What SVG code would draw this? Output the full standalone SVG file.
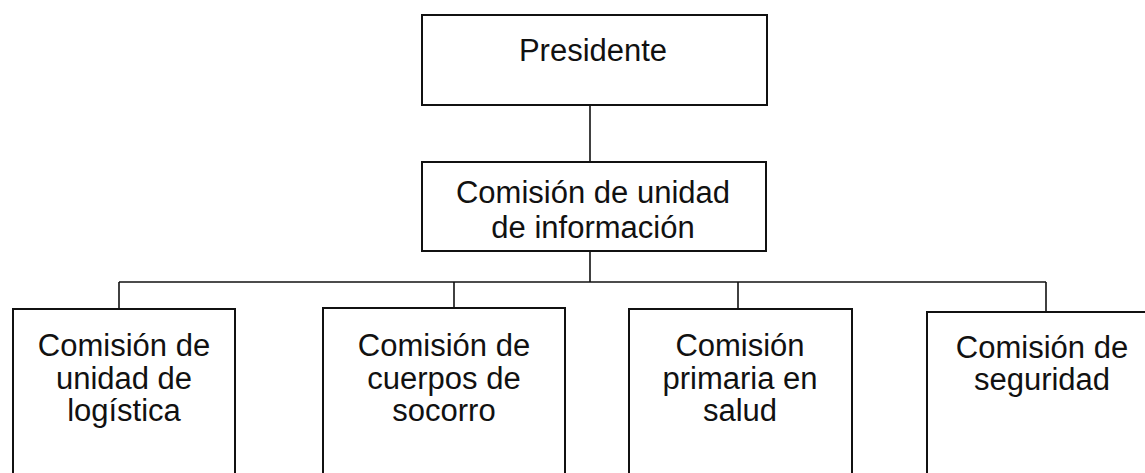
<svg xmlns="http://www.w3.org/2000/svg" width="1145" height="473" viewBox="0 0 1145 473">
<style>
.box{fill:#fff;stroke:#111;stroke-width:2}
.t{font-family:"Liberation Sans",Arial,sans-serif;font-size:31px;fill:#111;text-anchor:middle}
.c{fill:none;stroke:#111;stroke-width:1.6}
</style>
<rect width="1145" height="473" fill="#fff"/>
<g id="connectors">
<line class="c" x1="590" y1="105" x2="590" y2="162"/>
<line class="c" x1="590" y1="251" x2="590" y2="282"/>
<line class="c" x1="119" y1="282" x2="1046" y2="282"/>
<line class="c" x1="119" y1="282" x2="119" y2="309"/>
<line class="c" x1="454" y1="282" x2="454" y2="308"/>
<line class="c" x1="738" y1="282" x2="738" y2="309"/>
<line class="c" x1="1046" y1="282" x2="1046" y2="312"/>
</g>
<g id="presidente">
<rect class="box" x="422" y="15" width="345" height="90"/>
<text class="t" x="593" y="61">Presidente</text>
</g>
<g id="informacion">
<rect class="box" x="422" y="162" width="344" height="89"/>
<text class="t" x="593" y="203">Comisión de unidad</text>
<text class="t" x="593" y="238">de información</text>
</g>
<g id="logistica">
<rect class="box" x="13" y="309" width="222" height="180"/>
<text class="t" x="124" y="356">Comisión de</text>
<text class="t" x="124" y="389">unidad de</text>
<text class="t" x="124" y="421">logística</text>
</g>
<g id="socorro">
<rect class="box" x="323" y="308" width="242" height="180"/>
<text class="t" x="444" y="356">Comisión de</text>
<text class="t" x="444" y="389">cuerpos de</text>
<text class="t" x="444" y="421">socorro</text>
</g>
<g id="salud">
<rect class="box" x="629" y="309" width="223" height="180"/>
<text class="t" x="740" y="356">Comisión</text>
<text class="t" x="740" y="389">primaria en</text>
<text class="t" x="740" y="421">salud</text>
</g>
<g id="seguridad">
<rect class="box" x="927" y="312" width="230" height="180"/>
<text class="t" x="1042" y="358">Comisión de</text>
<text class="t" x="1042" y="390">seguridad</text>
</g>
</svg>
